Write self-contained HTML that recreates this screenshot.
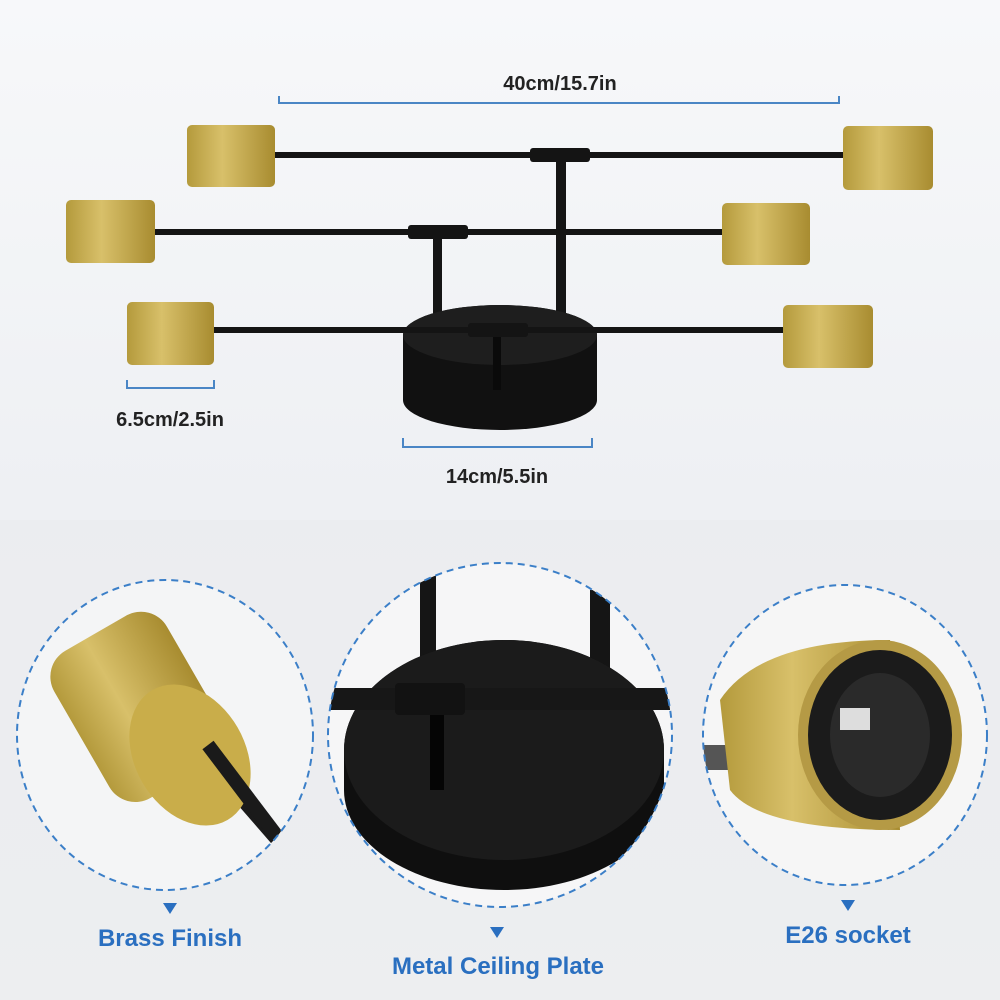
<!DOCTYPE html>
<html><head><style>body{margin:0;width:1000px;height:1000px;overflow:hidden;background:#f1f2f4;}svg{display:block}</style></head>
<body>
<svg width="1000" height="1000" viewBox="0 0 1000 1000" xmlns="http://www.w3.org/2000/svg" font-family="Liberation Sans, sans-serif">
<defs>
<linearGradient id="g" x1="0" y1="0" x2="1" y2="0"><stop offset="0" stop-color="#b49a3c"/><stop offset="0.4" stop-color="#d8c06a"/><stop offset="1" stop-color="#a88c30"/></linearGradient>
<linearGradient id="bg" x1="0" y1="0" x2="0" y2="1"><stop offset="0" stop-color="#f7f8fa"/><stop offset="0.5" stop-color="#eef0f3"/><stop offset="1" stop-color="#f2f2f2"/></linearGradient>
<clipPath id="c1"><ellipse cx="165" cy="735" rx="148" ry="155"/></clipPath>
<clipPath id="c2"><ellipse cx="500" cy="735" rx="172" ry="172"/></clipPath>
<clipPath id="c3"><ellipse cx="845" cy="735" rx="142" ry="150"/></clipPath>
</defs>
<rect width="1000" height="1000" fill="url(#bg)"/>
<rect x="0" y="520" width="1000" height="480" fill="#e9ebee" opacity="0.6"/>
<!-- top dimension -->
<text x="560" y="90" font-size="20" font-weight="bold" fill="#222" text-anchor="middle">40cm/15.7in</text>
<path d="M279 96V103H839V96" stroke="#4a86c5" stroke-width="2" fill="none"/>
<!-- stems -->
<rect x="556" y="155" width="10" height="175" fill="#151515"/>
<rect x="433" y="232" width="9" height="90" fill="#151515"/>
<rect x="493" y="335" width="8" height="55" fill="#151515"/>
<!-- canopy -->
<path d="M403 335 A97 30 0 0 1 597 335 V400 A97 30 0 0 1 403 400Z" fill="#111"/>
<ellipse cx="500" cy="335" rx="97" ry="30" fill="#1e1e1e"/>
<rect x="493" y="335" width="8" height="55" fill="#0a0a0a"/>
<!-- bars -->
<rect x="275" y="152" width="570" height="6" fill="#141414"/><rect x="530" y="148" width="60" height="14" rx="3" fill="#141414"/>
<rect x="155" y="229" width="568" height="6" fill="#141414"/><rect x="408" y="225" width="60" height="14" rx="3" fill="#141414"/>
<rect x="213" y="327" width="572" height="6" fill="#141414"/><rect x="468" y="323" width="60" height="14" rx="3" fill="#141414"/>
<!-- cylinders -->
<rect x="187" y="125" width="88" height="62" rx="5" fill="url(#g)"/>
<rect x="843" y="126" width="90" height="64" rx="5" fill="url(#g)"/>
<rect x="66" y="200" width="89" height="63" rx="5" fill="url(#g)"/>
<rect x="722" y="203" width="88" height="62" rx="5" fill="url(#g)"/>
<rect x="127" y="302" width="87" height="63" rx="5" fill="url(#g)"/>
<rect x="783" y="305" width="90" height="63" rx="5" fill="url(#g)"/>
<!-- dims -->
<path d="M127 380V388H214V380" stroke="#4a86c5" stroke-width="2" fill="none"/>
<text x="170" y="426" font-size="20" font-weight="bold" fill="#222" text-anchor="middle">6.5cm/2.5in</text>
<path d="M403 438V447H592V438" stroke="#4a86c5" stroke-width="2" fill="none"/>
<text x="497" y="483" font-size="20" font-weight="bold" fill="#222" text-anchor="middle">14cm/5.5in</text>
<!-- circle 1 -->
<g clip-path="url(#c1)">
<rect x="0" y="570" width="320" height="330" fill="#f4f5f6"/>
<line x1="195" y1="745" x2="295" y2="860" stroke="#1a1a1a" stroke-width="14"/>
<g transform="rotate(-30 140 700)"><rect x="70" y="620" width="130" height="170" rx="30" fill="url(#g)"/></g>
<ellipse cx="190" cy="755" rx="55" ry="75" transform="rotate(-30 190 755)" fill="#c9ad4a"/>
<line x1="208" y1="745" x2="295" y2="860" stroke="#1a1a1a" stroke-width="14"/>
</g>
<ellipse cx="165" cy="735" rx="148" ry="155" fill="none" stroke="#3b7fc8" stroke-width="2" stroke-dasharray="7 5"/>
<!-- circle 2 -->
<g clip-path="url(#c2)">
<rect x="320" y="560" width="360" height="360" fill="#f6f6f7"/>
<rect x="420" y="560" width="16" height="110" fill="#151515"/>
<rect x="590" y="590" width="20" height="100" fill="#151515"/>
<path d="M344 750 A160 110 0 0 1 664 750 V790 A160 100 0 0 1 344 790Z" fill="#0f0f0f"/>
<ellipse cx="504" cy="750" rx="160" ry="110" fill="#1b1b1b"/>
<rect x="430" y="710" width="14" height="80" fill="#050505"/>
<rect x="320" y="688" width="350" height="22" fill="#171717"/>
<rect x="395" y="683" width="70" height="32" rx="4" fill="#121212"/>
</g>
<ellipse cx="500" cy="735" rx="172" ry="172" fill="none" stroke="#3b7fc8" stroke-width="2" stroke-dasharray="7 5"/>
<!-- circle 3 -->
<g clip-path="url(#c3)">
<rect x="700" y="580" width="300" height="320" fill="#f6f6f6"/>
<rect x="700" y="745" width="30" height="25" fill="#555"/>
<path d="M720 700 Q760 640 890 640 L900 830 Q760 830 730 790Z" fill="url(#g)"/>
<ellipse cx="880" cy="735" rx="82" ry="95" fill="#b59a45"/>
<ellipse cx="880" cy="735" rx="72" ry="85" fill="#1b1b1b"/>
<ellipse cx="880" cy="735" rx="50" ry="62" fill="#2a2a2a"/>
<rect x="840" y="708" width="30" height="22" fill="#ddd"/>
</g>
<ellipse cx="845" cy="735" rx="142" ry="150" fill="none" stroke="#3b7fc8" stroke-width="2" stroke-dasharray="7 5"/>
<!-- labels -->
<path d="M163 903H177L170 914Z" fill="#2a6fc0"/>
<path d="M490 927H504L497 938Z" fill="#2a6fc0"/>
<path d="M841 900H855L848 911Z" fill="#2a6fc0"/>
<text x="170" y="946" font-size="24" font-weight="bold" fill="#2a6fc0" text-anchor="middle">Brass Finish</text>
<text x="498" y="974" font-size="24" font-weight="bold" fill="#2a6fc0" text-anchor="middle">Metal Ceiling Plate</text>
<text x="848" y="943" font-size="24" font-weight="bold" fill="#2a6fc0" text-anchor="middle">E26 socket</text>
</svg>
</body></html>
